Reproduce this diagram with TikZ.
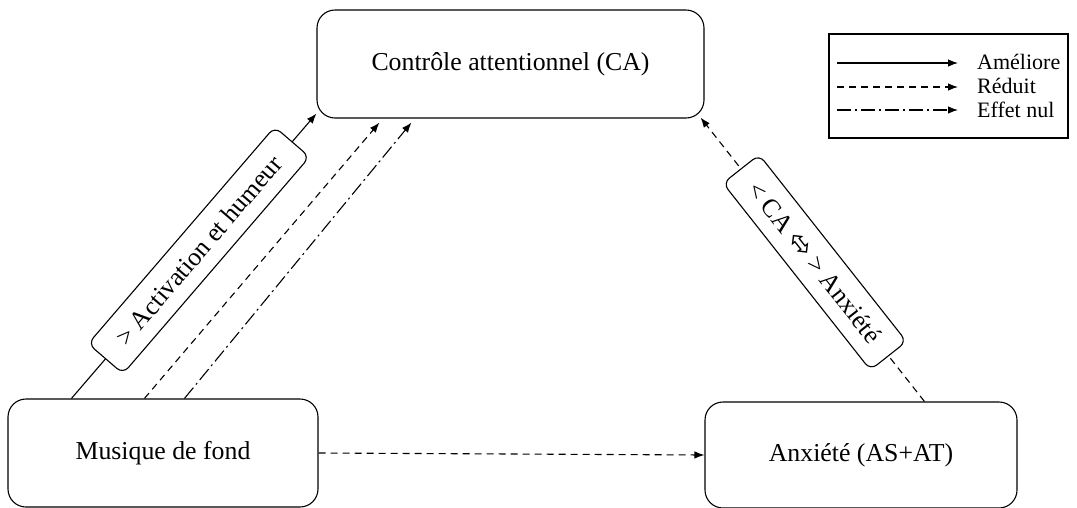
\documentclass[tikz,border=0pt]{standalone}
\usepackage{fontspec}
\setmainfont{Liberation Serif}
\newfontfamily\symfont{DejaVu Sans}
\usetikzlibrary{arrows.meta,calc}
\begin{document}
\begin{tikzpicture}[x=1pt,y=-1pt,
  box/.style={draw,line width=1.1pt,rounded corners=18pt,inner sep=0pt,font=\fontsize{25.8}{30}\selectfont},
  lab/.style={draw,solid,line width=1.1pt,rounded corners=8pt,fill=white,sloped,minimum height=46pt,inner sep=0pt,font=\fontsize{25.8}{30}\selectfont},
  arr/.style={line width=1.1pt,-{Latex[length=10pt,width=7.5pt]}},
  reduit/.style={arr,dash pattern=on 7pt off 5pt},
  nul/.style={arr,dash pattern=on 14pt off 4pt on 2pt off 4pt},
  legtxt/.style={anchor=west,font=\fontsize{22}{26}\selectfont,inner sep=0pt}]
\useasboundingbox (0,0) rectangle (1077,507);
% main boxes
\node[box,minimum width=387pt,minimum height=108pt] (ca) at (510.5,64) {Contrôle attentionnel (CA)};
\node[box,minimum width=310pt,minimum height=108pt] (mus) at (163,453) {Musique de fond};
\node[box,minimum width=312pt,minimum height=106pt] (anx) at (861,455) {Anxiété (AS+AT)};
% anchor coordinates
\coordinate (m1) at ($(mus.north west)+(64,0)$);
\coordinate (m2) at ($(mus.north west)+(137,0)$);
\coordinate (m3) at ($(mus.north west)+(177,0)$);
\coordinate (c1) at ($(ca.south west)+(0,-5)$);
\coordinate (c2) at ($(ca.south west)+(63,4)$);
\coordinate (c3) at ($(ca.south west)+(95,4)$);
\coordinate (c4) at ($(ca.south east)+(-4,-1)$);
\coordinate (a1) at ($(anx.north west)+(220,0)$);
% connectors
\draw[arr] (m1) -- node[lab,pos=0.52,minimum width=286pt] (la) {> Activation et humeur} (c1);
\draw[reduit] (m2) -- (c2);
\draw[nul] (m3) -- (c3);
\draw[reduit] (a1) -- node[lab,pos=0.49,minimum width=238pt] (lb) {< CA {\symfont\fontsize{30}{30}\selectfont\raisebox{-1pt}{⬄}} > Anxiété} (c4);
\draw[reduit] (mus.east) -- (anx.west);
% legend
\node[draw,line width=1.1pt,minimum width=239pt,minimum height=104pt,inner sep=0pt] (leg) at (948.5,86) {};
\coordinate (l1a) at (837,63); \coordinate (l1b) at (958,63);
\coordinate (l2a) at (837,87); \coordinate (l2b) at (958,87);
\coordinate (l3a) at (837,110); \coordinate (l3b) at (958,110);
\draw[arr] (l1a) -- (l1b);
\draw[reduit] (l2a) -- (l2b);
\draw[nul] (l3a) -- (l3b);
\node[legtxt] (t1) at (977,62) {Améliore};
\node[legtxt] (t2) at (977,86) {Réduit};
\node[legtxt] (t3) at (977,110) {Effet nul};
\end{tikzpicture}
\end{document}
